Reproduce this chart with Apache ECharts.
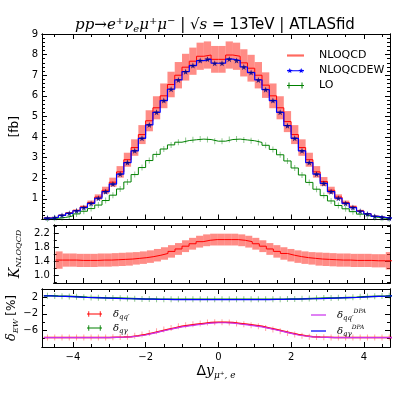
<!DOCTYPE html>
<html><head><meta charset="utf-8">
<script src="https://cdn.jsdelivr.net/npm/echarts@6/dist/echarts.min.js"></script>
<style>html,body{margin:0;padding:0;background:#fff}#c{width:399px;height:399px}</style>
</head><body><div id="c"></div><script>
// ---------------- data ----------------
const binCenters = [-4.7,-4.5,-4.3,-4.1,-3.9,-3.7,-3.5,-3.3,-3.1,-2.9,-2.7,-2.5,-2.3,-2.1,-1.9,-1.7,-1.5,-1.3,-1.1,-0.9,-0.7,-0.5,-0.3,-0.1,
  0.1,0.3,0.5,0.7,0.9,1.1,1.3,1.5,1.7,1.9,2.1,2.3,2.5,2.7,2.9,3.1,3.3,3.5,3.7,3.9,4.1,4.3,4.5,4.7];
const halfBin = 0.1;
const nloqcdew = [0.07,0.1,0.2,0.3,0.42,0.58,0.78,1.03,1.35,1.72,2.2,2.76,3.33,3.94,4.59,5.2,5.77,6.32,6.77,7.17,7.47,7.71,7.78,7.58,
  7.58,7.78,7.71,7.4,7.13,6.77,6.3,5.77,5.2,4.55,3.94,3.33,2.76,2.2,1.75,1.35,1.03,0.78,0.58,0.4,0.27,0.15,0.1,0.06];
const nloqcd = [0.074,0.106,0.21,0.32,0.44,0.61,0.82,1.09,1.42,1.81,2.31,2.9,3.49,4.12,4.79,5.42,6.0,6.55,7.0,7.39,7.68,7.92,7.98,7.77,
  7.77,7.98,7.92,7.6,7.34,7.0,6.52,6.0,5.42,4.75,4.12,3.49,2.9,2.31,1.84,1.42,1.09,0.82,0.61,0.42,0.28,0.16,0.1,0.06];
const nloqcdErr = [0.01,0.01,0.02,0.03,0.05,0.07,0.1,0.13,0.17,0.22,0.28,0.34,0.4,0.46,0.51,0.56,0.6,0.62,0.64,0.65,0.66,0.66,0.66,0.65,
  0.65,0.66,0.66,0.66,0.65,0.64,0.62,0.6,0.56,0.51,0.46,0.4,0.34,0.28,0.22,0.17,0.13,0.1,0.07,0.05,0.03,0.02,0.01,0.01];
const lo = [0.04,0.06,0.1,0.17,0.27,0.4,0.53,0.7,0.92,1.18,1.48,1.82,2.18,2.52,2.86,3.16,3.42,3.62,3.75,3.83,3.87,3.9,3.88,3.8,
  3.8,3.88,3.9,3.86,3.82,3.74,3.6,3.4,3.14,2.84,2.5,2.16,1.8,1.47,1.16,0.9,0.68,0.52,0.38,0.26,0.17,0.1,0.06,0.04];
const kFactor = [1.44,1.44,1.44,1.43,1.43,1.43,1.44,1.44,1.45,1.46,1.47,1.49,1.51,1.54,1.58,1.63,1.69,1.76,1.84,1.91,1.97,2.01,2.03,2.03,
  2.03,2.03,2.01,1.97,1.91,1.84,1.76,1.69,1.63,1.58,1.54,1.51,1.49,1.47,1.46,1.45,1.44,1.44,1.43,1.43,1.43,1.42,1.42,1.42];
const kErr = [0.25,0.19,0.19,0.19,0.19,0.19,0.19,0.19,0.19,0.19,0.19,0.18,0.18,0.18,0.18,0.18,0.18,0.17,0.17,0.17,0.17,0.17,0.17,0.17,
  0.17,0.17,0.17,0.17,0.17,0.17,0.17,0.18,0.18,0.18,0.18,0.18,0.18,0.19,0.19,0.19,0.19,0.19,0.19,0.19,0.19,0.19,0.19,0.25];
const dQQ = [-7.7,-7.7,-7.7,-7.7,-7.7,-7.7,-7.7,-7.7,-7.7,-7.65,-7.6,-7.5,-7.3,-7.0,-6.6,-6.2,-5.8,-5.4,-5.0,-4.75,-4.5,-4.3,-4.1,-4.0,
  -4.0,-4.1,-4.3,-4.5,-4.75,-5.0,-5.4,-5.8,-6.2,-6.6,-7.0,-7.3,-7.5,-7.6,-7.65,-7.7,-7.7,-7.7,-7.7,-7.7,-7.7,-7.7,-7.7,-7.7];
const dQQdpa = [-7.75,-7.75,-7.75,-7.75,-7.75,-7.75,-7.75,-7.75,-7.75,-7.7,-7.65,-7.55,-7.35,-7.1,-6.7,-6.3,-5.9,-5.5,-5.15,-4.9,-4.65,-4.45,-4.25,-4.15,
  -4.15,-4.25,-4.45,-4.65,-4.9,-5.15,-5.5,-5.9,-6.3,-6.7,-7.1,-7.35,-7.55,-7.65,-7.7,-7.75,-7.75,-7.75,-7.75,-7.75,-7.75,-7.75,-7.75,-7.75];
const dQA = [2.4,2.3,2.25,2.2,2.1,2.0,1.95,1.9,1.85,1.8,1.75,1.7,1.65,1.6,1.6,1.55,1.55,1.5,1.5,1.5,1.5,1.5,1.5,1.5,
  1.5,1.5,1.5,1.5,1.5,1.5,1.5,1.55,1.55,1.6,1.6,1.65,1.7,1.75,1.8,1.85,1.9,1.95,2.0,2.1,2.2,2.25,2.3,2.4];
const dQAdpa = [2.35,2.25,2.2,2.15,2.05,1.95,1.9,1.85,1.8,1.75,1.7,1.65,1.6,1.55,1.55,1.5,1.5,1.45,1.45,1.45,1.45,1.45,1.45,1.45,
  1.45,1.45,1.45,1.45,1.45,1.45,1.45,1.5,1.5,1.55,1.55,1.6,1.65,1.7,1.75,1.8,1.85,1.9,1.95,2.05,2.15,2.2,2.25,2.35];
const xTickLabels = [-4,-2,0,2,4];
const deltaTickLabels = [-6,-2,2];

// ---------------- helpers ----------------
const X_MIN = -4.85, X_MAX = 4.72;
function ticks(a,b,s){const r=[];for(let v=a;v<=b+1e-9;v+=s) r.push(+v.toFixed(4));return r;}
function steps(vals){const out=[];binCenters.forEach((c,i)=>{out.push([c-halfBin,vals[i]]);out.push([c+halfBin,vals[i]]);});return out;}
function pts(vals){return binCenters.map((c,i)=>[c,vals[i]]);}
function starPath(cx,cy,R){let s='';for(let i=0;i<10;i++){const r=i%2?R*0.42:R;const a=-Math.PI/2+i*Math.PI/5;
  s+=(i?'L':'M')+(cx+r*Math.cos(a)).toFixed(2)+','+(cy+r*Math.sin(a)).toFixed(2);}return s+'Z';}
const minus = v => v<0 ? '\u2212'+(-v) : String(v);
const FONT = 'DejaVu Sans';

const xMinor = ticks(-4.5,4.5,0.5).filter(v=>!xTickLabels.includes(v));
const panels = [
  {top:34, height:185.5, yMin:0, yMax:9, yMajor:ticks(0,9,1), yMinor:ticks(0,9,0.2), yLabels:ticks(1,9,1), fmt:v=>String(v),
   name:'[fb]', nameGap:13, nameStyle:{fontSize:12, fontFamily:FONT, color:'#000'}},
  {top:225, height:58, yMin:0.78, yMax:2.45, yMajor:[1.0,1.4,1.8,2.2], yMinor:[0.8,1.2,1.6,2.0,2.4], yLabels:[1.0,1.4,1.8,2.2], fmt:v=>v.toFixed(1),
   name:'{k|K}{s|NLOQCD}', nameGap:23, nameStyle:{rich:{k:{fontFamily:'DejaVu Serif',fontStyle:'italic',fontSize:14,lineHeight:16,color:'#000'},
     s:{fontFamily:'DejaVu Serif',fontStyle:'italic',fontSize:8,lineHeight:8,verticalAlign:'bottom',color:'#000'}}}},
  {top:289, height:58, yMin:-10, yMax:4, yMajor:[-6,-2,2], yMinor:[-8,-4,0], yLabels:[], fmt:minus,
   name:'', nameGap:23, nameStyle:{}}
];
const dRichName = {d:{fontFamily:'DejaVu Serif',fontStyle:'italic',fontSize:13,lineHeight:15,color:'#000'},
     s:{fontFamily:'DejaVu Serif',fontStyle:'italic',fontSize:8,lineHeight:8,verticalAlign:'bottom',color:'#000'},
     r:{fontFamily:FONT,fontSize:12,lineHeight:15,color:'#000'}};
const LEFT = 42, RIGHT = 9;
const grid = panels.map(p=>({left:LEFT, right:RIGHT, top:p.top, height:p.height, show:false}));
const axisLine = {show:true, onZero:false, lineStyle:{color:'#000', width:1}};
const xAxis = [], yAxis = [];
panels.forEach((p,g)=>{
  const base = {type:'value', gridIndex:g, min:X_MIN, max:X_MAX, splitLine:{show:false}, axisLine};
  xAxis.push(Object.assign({}, base, {position:'bottom', axisTick:{inside:true,length:3,customValues:xMinor,lineStyle:{color:'#000'}}, axisLabel:{show:false}}));
  const major = Object.assign({}, base, {position:'bottom', axisTick:{inside:true,length:5,customValues:xTickLabels,lineStyle:{color:'#000'}},
    axisLabel: g===2 ? {show:true, customValues:xTickLabels, formatter:minus, fontSize:10, fontFamily:FONT, color:'#000', margin:5} : {show:false}});
  if (g===2) Object.assign(major, {name:'{D|Δ}{y|y}{s|μ⁺, e}', nameLocation:'middle', nameGap:15,
    nameTextStyle:{rich:{D:{fontFamily:FONT,fontSize:14,lineHeight:18,color:'#000'},y:{fontFamily:'DejaVu Serif',fontStyle:'italic',fontSize:14,lineHeight:18,color:'#000'},
      s:{fontFamily:'DejaVu Serif',fontStyle:'italic',fontSize:9,lineHeight:9,verticalAlign:'bottom',color:'#000'}}}});
  xAxis.push(major);
  xAxis.push(Object.assign({}, base, {position:'top', axisTick:{inside:true,length:3,customValues:xMinor,lineStyle:{color:'#000'}}, axisLabel:{show:false}}));
  xAxis.push(Object.assign({}, base, {position:'top', axisTick:{inside:true,length:5,customValues:xTickLabels,lineStyle:{color:'#000'}}, axisLabel:{show:false}}));
  const yb = {type:'value', gridIndex:g, min:p.yMin, max:p.yMax, splitLine:{show:false}, axisLine};
  const labA = p.yLabels.filter((v,i)=>i%2===0), labB = p.yLabels.filter((v,i)=>i%2===1);
  const lab = vals => vals.length ? {show:true, customValues:vals, formatter:p.fmt, fontSize:10, fontFamily:FONT, color:'#000', margin:4, hideOverlap:false} : {show:false};
  const ymaj = Object.assign({}, yb, {position:'left', axisTick:{inside:true,length:5,customValues:p.yMajor,lineStyle:{color:'#000'}},
    axisLabel:lab(labB)});
  if (p.name) Object.assign(ymaj, {name:p.name, nameLocation:'middle', nameGap:p.nameGap, nameRotate:90, nameTextStyle:p.nameStyle});
  yAxis.push(ymaj);
  yAxis.push(Object.assign({}, yb, {position:'left', axisTick:{inside:true,length:3,customValues:p.yMinor,lineStyle:{color:'#000'}},
    axisLabel:lab(labA)}));
  yAxis.push(Object.assign({}, yb, {position:'right', axisTick:{inside:true,length:5,customValues:p.yMajor,lineStyle:{color:'#000'}}, axisLabel:{show:false}}));
  yAxis.push(Object.assign({}, yb, {position:'right', axisTick:{inside:true,length:3,customValues:p.yMinor,lineStyle:{color:'#000'}}, axisLabel:{show:false}}));
});

function bandRender(color){
  return function(params, api){
    const c = api.value(0), v = api.value(1), e = api.value(2);
    const p1 = api.coord([c-halfBin, v+e]);
    const p2 = api.coord([c+halfBin, v-e]);
    const cs = params.coordSys;
    const r = echarts.graphic.clipRectByRect({x:p1[0], y:p1[1], width:p2[0]-p1[0], height:p2[1]-p1[1]},
      {x:cs.x, y:cs.y, width:cs.width, height:cs.height});
    return r ? {type:'rect', shape:r, style:{fill:color}} : null;
  };
}
const BAND = 'rgba(255,70,60,0.62)';
function lineS(name, g, data, color, width, z){
  return {type:'line', name, xAxisIndex:4*g, yAxisIndex:4*g, data, symbol:'none', showSymbol:false, clip:true,
    lineStyle:{color, width}, itemStyle:{color}, z, silent:true};
}
function tickS(name, g, data, color, h, z){
  return {type:'scatter', name, xAxisIndex:4*g, yAxisIndex:4*g, data, symbol:'rect', symbolSize:[1,h], itemStyle:{color}, z, silent:true, clip:true};
}
const series = [
  {type:'custom', name:'band', xAxisIndex:0, yAxisIndex:0, data:binCenters.map((c,i)=>[c,nloqcd[i],nloqcdErr[i]]), renderItem:bandRender(BAND), z:1, silent:true},
  lineS('NLOQCD',0,steps(nloqcd),'#ff0000',1,2),
  lineS('LO',0,steps(lo),'#008000',1,3),
  tickS('LO',0,pts(lo),'rgba(0,128,0,0.55)',6,3),
  lineS('NLOQCDEW',0,steps(nloqcdew),'#0000ff',1.2,4),
  {type:'scatter', name:'NLOQCDEW', xAxisIndex:0, yAxisIndex:0, data:pts(nloqcdew), symbol:'path://'+starPath(0,0,10), symbolSize:6,
    itemStyle:{color:'#000080'}, z:5, silent:true},
  {type:'custom', name:'kband', xAxisIndex:4, yAxisIndex:4, data:binCenters.map((c,i)=>[c,kFactor[i],kErr[i]]), renderItem:bandRender(BAND), z:1, silent:true},
  lineS('K',1,steps(kFactor),'#ff0000',1,2),
  lineS('dqq',2,steps(dQQ),'#ff0000',1.5,2),
  tickS('dqq',2,pts(dQQ),'rgba(255,0,0,0.45)',6,2),
  lineS('dqa',2,steps(dQA),'#008000',1.5,3),
  tickS('dqa',2,pts(dQA),'rgba(0,128,0,0.55)',6,3),
  lineS('dqqdpa',2,steps(dQQdpa),'#cc33ee',1.2,4),
  lineS('dqadpa',2,steps(dQAdpa),'#0000ff',1.2,5)
];

const iconLine = 'path://M0,0L17,0L17,2.2L0,2.2Z';
const iconEW = 'path://M0,2.6L17,2.6L17,3.4L0,3.4Z' + starPath(2.8,3,2.8) + starPath(14.2,3,2.8);
const iconErr = 'path://M0,2.5L17,2.5L17,3.5L0,3.5Z M1.5,0L2.5,0L2.5,6L1.5,6Z M14.5,0L15.5,0L15.5,6L14.5,6Z';
const iconThin = 'path://M0,0L17,0L17,1.4L0,1.4Z';
const legText = {fontSize:11, fontFamily:FONT, color:'#000', padding:[0,0,0,10]};
const dRich = {d:{fontFamily:'DejaVu Serif',fontStyle:'italic',fontSize:10,lineHeight:14,color:'#000'},
  s:{fontFamily:'DejaVu Serif',fontStyle:'italic',fontSize:7,lineHeight:7,verticalAlign:'bottom',color:'#000'},
  p:{fontFamily:'DejaVu Serif',fontStyle:'italic',fontSize:6,lineHeight:7,verticalAlign:'top',color:'#000'}};
const dNames = {dqq:'{d|δ}{s|qq′}', dqa:'{d|δ}{s|qγ}', dqqdpa:'{d|δ}{s|qq′}{p|DPA}', dqadpa:'{d|δ}{s|qγ}{p|DPA}'};
const legend = [
  {left:282, top:45, orient:'vertical', itemWidth:17, itemHeight:6, itemGap:4, selectedMode:false, itemStyle:{borderWidth:0},
   textStyle:legText,
   data:[{name:'NLOQCD', icon:iconLine, itemStyle:{color:'#ff6a60'}},
         {name:'NLOQCDEW', icon:iconEW, itemStyle:{color:'#0000ff'}},
         {name:'LO', icon:iconErr, itemStyle:{color:'#008000'}}]},
  {left:82, top:304, orient:'vertical', itemWidth:15, itemHeight:6, itemGap:2, selectedMode:false, itemStyle:{borderWidth:0},
   textStyle:{padding:[0,0,0,6], rich:dRich}, formatter:n=>dNames[n],
   data:[{name:'dqq', icon:iconErr, itemStyle:{color:'#ff0000'}}, {name:'dqa', icon:iconErr, itemStyle:{color:'#008000'}}]},
  {left:306, top:303, orient:'vertical', itemWidth:15, itemHeight:6, itemGap:2, selectedMode:false, itemStyle:{borderWidth:0},
   textStyle:{padding:[0,0,0,6], rich:dRich}, formatter:n=>dNames[n],
   data:[{name:'dqqdpa', icon:iconThin, itemStyle:{color:'#cc33ee'}}, {name:'dqadpa', icon:iconThin, itemStyle:{color:'#0000ff'}}]}
];

const tRich = {
  m:{fontFamily:'DejaVu Serif',fontStyle:'italic',fontSize:15,lineHeight:18,color:'#000'},
  r:{fontFamily:'DejaVu Serif',fontSize:15,lineHeight:18,color:'#000'},
  u:{fontFamily:'DejaVu Serif',fontSize:10,lineHeight:9,verticalAlign:'top',color:'#000'},
  b:{fontFamily:'DejaVu Serif',fontStyle:'italic',fontSize:10,lineHeight:9,verticalAlign:'bottom',color:'#000'},
  n:{fontFamily:FONT,fontSize:15,lineHeight:18,color:'#000'}
};
const titleText = '{m|pp}{r|→}{m|e}{u|+}{m|ν}{b|e}{m|μ}{u|+}{m|μ}{u|−}{n| | }{r|√}{m|s}{r| = }{n|13TeV | ATLASfid}';

const chart = echarts.init(document.getElementById('c'), null, {renderer:'canvas'});
chart.setOption({
  animation:false,
  backgroundColor:'#fff',
  grid, xAxis, yAxis, series, legend
});
// tick labels of the δ_EW panel, placed through the panel's own y scale
const tickLabelEls = deltaTickLabels.map(v => ({type:'text', x:LEFT-4, y:chart.convertToPixel({yAxisIndex:8}, v), silent:true, z:100,
  style:{text:(v<0?'\u2212':'')+Math.abs(v), font:'10px "DejaVu Sans"', fill:'#000', align:'right', verticalAlign:'middle'}}));
chart.setOption({graphic:[
    {type:'text', x:215, y:25, silent:true, z:100, style:{text:titleText, rich:tRich, align:'center', verticalAlign:'middle'}},
    {type:'text', x:12, y:318, rotation:Math.PI/2, silent:true, z:100, style:{text:'{d|δ}{s|EW} {r|[%]}', rich:dRichName, align:'center', verticalAlign:'middle'}}
  ].concat(tickLabelEls)});
</script></body></html>
